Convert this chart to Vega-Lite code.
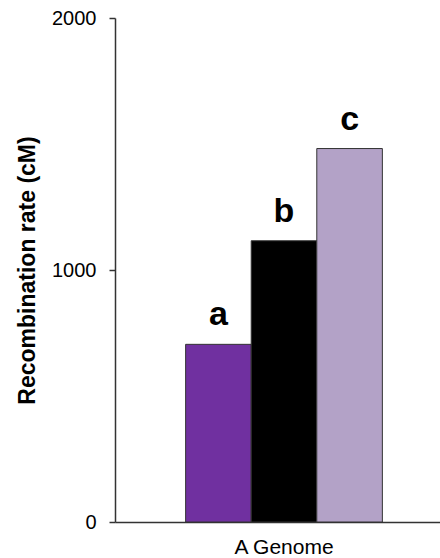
{
  "$schema": "https://vega.github.io/schema/vega-lite/v6.json",
  "autosize": "none",
  "padding": {"left": 115, "top": 18, "right": 0, "bottom": 36},
  "width": 338,
  "height": 504,
  "background": "white",
  "config": {"view": {"stroke": null}, "font": "Liberation Sans"},
  "data": {"values": [
    {"genome": "A Genome", "group": "a", "rate": 705, "color": "#7030A0"},
    {"genome": "A Genome", "group": "b", "rate": 1116, "color": "#000000"},
    {"genome": "A Genome", "group": "c", "rate": 1482, "color": "#B3A2C7"}
  ]},
  "encoding": {
    "x": {"field": "genome", "type": "nominal", "scale": {"paddingInner": 0, "paddingOuter": 0.359},
      "axis": {"title": null, "labelAngle": 0, "labelFontSize": 21, "labelColor": "#000", "labelFont": "Liberation Sans", "ticks": false, "labelPadding": 14, "labelBaseline": "top", "domainColor": "#333", "domainWidth": 1.5}},
    "xOffset": {"field": "group", "type": "nominal", "scale": {"domain": ["a", "b", "c"], "paddingInner": 0, "paddingOuter": 0}},
    "y": {"field": "rate", "type": "quantitative", "scale": {"domain": [0, 2000]},
      "axis": {"title": "Recombination rate (cM)", "titleFontSize": 23, "titleFontWeight": "bold", "titleFont": "Liberation Sans", "titleColor": "#000", "titlePadding": 12,
        "values": [0, 1000, 2000], "format": "d", "labelFontSize": 20, "labelColor": "#000", "labelFont": "Liberation Sans", "labelPadding": 13, "tickSize": 6, "tickColor": "#333", "tickWidth": 1.5, "domainColor": "#333", "domainWidth": 1.5, "grid": false}}
  },
  "layer": [
    {"mark": {"type": "bar", "stroke": "#333", "strokeWidth": 1},
      "encoding": {"color": {"field": "color", "type": "nominal", "scale": null}}},
    {"mark": {"type": "text", "fontSize": 34, "fontWeight": "bold", "font": "Liberation Sans", "baseline": "alphabetic", "dy": -19, "color": "#000"},
      "encoding": {"text": {"field": "group"}}}
  ]
}
